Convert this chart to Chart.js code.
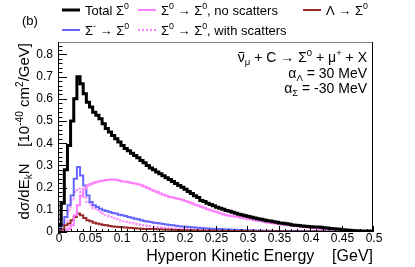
<!DOCTYPE html>
<html>
<head>
<meta charset="utf-8">
<script src="https://cdn.jsdelivr.net/npm/chart.js@4"></script>
<style>
  body { margin: 0; background: #fff; }
  canvas { display: block; }
</style>
</head>
<body>
<canvas id="hypChart" width="415" height="267"></canvas>
<script>
// histogram binning: 100 bins of 5 MeV from 0 to 0.5 GeV
var binWidth = 0.005;
var xTicks = [0, 0.05, 0.1, 0.15, 0.2, 0.25, 0.3, 0.35, 0.4, 0.45, 0.5];
var xTickLabels = ['0', '0.05', '0.1', '0.15', '0.2', '0.25', '0.3', '0.35', '0.4', '0.45', '0.5'];
var yTicks = [0, 0.1, 0.2, 0.3, 0.4, 0.5, 0.6, 0.7, 0.8];
var yTickLabels = ['0', '0.1', '0.2', '0.3', '0.4', '0.5', '0.6', '0.7', '0.8'];

// Total Sigma0
var totalSigma0 = [
  0.03, 0.13, 0.28, 0.39, 0.50, 0.60, 0.70, 0.668, 0.623, 0.585,
  0.563, 0.54, 0.526, 0.51, 0.488, 0.466, 0.45, 0.435, 0.42, 0.405,
  0.39, 0.376, 0.366, 0.355, 0.345, 0.334, 0.322, 0.312, 0.300, 0.288,
  0.280, 0.270, 0.262, 0.253, 0.244, 0.236, 0.228, 0.219, 0.210, 0.202,
  0.193, 0.183, 0.173, 0.163, 0.155, 0.142, 0.137, 0.130, 0.124, 0.118,
  0.112, 0.107, 0.102, 0.097, 0.093, 0.089, 0.084, 0.080, 0.077, 0.073,
  0.070, 0.066, 0.063, 0.060, 0.057, 0.054, 0.051, 0.049, 0.046, 0.044,
  0.041, 0.039, 0.037, 0.035, 0.032, 0.030, 0.029, 0.027, 0.026, 0.025,
  0.024, 0.023, 0.022, 0.021, 0.019, 0.018, 0.016, 0.015, 0.013, 0.012,
  0.010, 0.009, 0.008, 0.007, 0.006, 0.006, 0.005, 0.005, 0.004, 0.004
];
// Sigma0 -> Sigma0, no scatters
var s0NoScat = [
  0, 0, 0.005, 0.015, 0.03, 0.075, 0.12, 0.165, 0.195, 0.21,
  0.216, 0.222, 0.226, 0.229, 0.232, 0.234, 0.236, 0.237, 0.235, 0.232,
  0.228, 0.226, 0.224, 0.221, 0.218, 0.215, 0.211, 0.205, 0.198, 0.192,
  0.186, 0.180, 0.174, 0.168, 0.163, 0.158, 0.155, 0.152, 0.149, 0.145,
  0.140, 0.135, 0.130, 0.124, 0.119, 0.114, 0.109, 0.103, 0.098, 0.094,
  0.090, 0.085, 0.080, 0.076, 0.073, 0.071, 0.069, 0.067, 0.064, 0.061,
  0.058, 0.056, 0.053, 0.051, 0.048, 0.046, 0.043, 0.041, 0.039, 0.037,
  0.035, 0.033, 0.031, 0.030, 0.028, 0.026, 0.025, 0.023, 0.022, 0.020,
  0.019, 0.018, 0.017, 0.015, 0.014, 0.013, 0.012, 0.011, 0.010, 0.009,
  0.008, 0.007, 0.007, 0.006, 0.005, 0.005, 0.004, 0.004, 0.003, 0.003
];
// Lambda -> Sigma0
var lamToS0 = [
  0, 0.01, 0.03, 0.038, 0.053, 0.068, 0.083, 0.075, 0.063, 0.053,
  0.048, 0.042, 0.038, 0.035, 0.032, 0.030, 0.027, 0.025, 0.024, 0.022,
  0.021, 0.020, 0.019, 0.018, 0.017, 0.016, 0.015, 0.014, 0.014, 0.013,
  0.013, 0.012, 0.012, 0.011, 0.011, 0.010, 0.010, 0.009, 0.009, 0.009,
  0.008, 0.008, 0.008, 0.007, 0.007, 0.007, 0.006, 0.006, 0.006, 0.006,
  0.005, 0.005, 0.005, 0.005, 0.005, 0.004, 0.004, 0.004, 0.004, 0.004,
  0.004, 0.003, 0.003, 0.003, 0.003, 0.003, 0.003, 0.003, 0.003, 0.003,
  0.003, 0.003, 0.003, 0.002, 0.002, 0.002, 0.002, 0.002, 0.002, 0.002,
  0.002, 0.002, 0.002, 0.002, 0.002, 0.001, 0.001, 0.001, 0.001, 0.001,
  0.001, 0.001, 0.001, 0.001, 0.001, 0.001, 0.001, 0.001, 0.001, 0.001
];
// Sigma- -> Sigma0
var smToS0 = [
  0.01, 0.03, 0.068, 0.12, 0.165, 0.24, 0.293, 0.255, 0.21, 0.165,
  0.135, 0.12, 0.113, 0.105, 0.098, 0.095, 0.09, 0.086, 0.083, 0.078,
  0.075, 0.072, 0.068, 0.064, 0.060, 0.057, 0.053, 0.050, 0.047, 0.045,
  0.042, 0.040, 0.038, 0.036, 0.034, 0.032, 0.030, 0.028, 0.026, 0.025,
  0.024, 0.022, 0.021, 0.020, 0.019, 0.018, 0.017, 0.016, 0.015, 0.014,
  0.013, 0.013, 0.012, 0.011, 0.011, 0.010, 0.010, 0.009, 0.009, 0.008,
  0.008, 0.008, 0.007, 0.007, 0.007, 0.006, 0.006, 0.006, 0.005, 0.005,
  0.005, 0.005, 0.004, 0.004, 0.004, 0.004, 0.004, 0.003, 0.003, 0.003,
  0.003, 0.003, 0.003, 0.002, 0.002, 0.002, 0.002, 0.002, 0.002, 0.002,
  0.002, 0.001, 0.001, 0.001, 0.001, 0.001, 0.001, 0.001, 0.001, 0.001
];
// Sigma0 -> Sigma0, with scatters
var s0WithScat = [
  0, 0.01, 0.03, 0.098, 0.143, 0.18, 0.195, 0.18, 0.158, 0.135,
  0.12, 0.105, 0.098, 0.09, 0.083, 0.075, 0.068, 0.062, 0.057, 0.052,
  0.048, 0.045, 0.042, 0.039, 0.036, 0.034, 0.032, 0.030, 0.028, 0.026,
  0.024, 0.023, 0.021, 0.020, 0.019, 0.018, 0.017, 0.016, 0.015, 0.014,
  0.013, 0.012, 0.012, 0.011, 0.010, 0.010, 0.009, 0.009, 0.008, 0.008,
  0.007, 0.007, 0.007, 0.006, 0.006, 0.006, 0.005, 0.005, 0.005, 0.005,
  0.004, 0.004, 0.004, 0.004, 0.004, 0.003, 0.003, 0.003, 0.003, 0.003,
  0.003, 0.003, 0.002, 0.002, 0.002, 0.002, 0.002, 0.002, 0.002, 0.002,
  0.002, 0.002, 0.002, 0.001, 0.001, 0.001, 0.001, 0.001, 0.001, 0.001,
  0.001, 0.001, 0.001, 0.001, 0.001, 0.001, 0.001, 0.001, 0.001, 0.001
];

var FONT = '"Liberation Sans", Arial, Helvetica, sans-serif';

// turn bin contents into step points (left edge of every bin + closing edge)
function histPoints(vals) {
  var pts = [{ x: 0, y: 0 }];
  for (var i = 0; i < vals.length; i++) {
    pts.push({ x: +(i * binWidth).toFixed(3), y: vals[i] });
  }
  pts.push({ x: +(vals.length * binWidth).toFixed(3), y: vals[vals.length - 1] });
  return pts;
}

// text with sub/superscripts: parts = [[text, kind], ...], kind '', 'sup', 'sub', 'bar'
function richWidth(ctx, parts, size) {
  var w = 0;
  parts.forEach(function(p) {
    var s = (p[1] === 'sup' || p[1] === 'sub') ? size * 0.68 : size;
    ctx.font = s + 'px ' + FONT;
    w += ctx.measureText(p[0]).width;
  });
  return w;
}
function drawRich(ctx, parts, x, y, size, align) {
  var w = richWidth(ctx, parts, size);
  var cx = align === 'right' ? x - w : (align === 'center' ? x - w / 2 : x);
  ctx.textAlign = 'left';
  ctx.textBaseline = 'alphabetic';
  parts.forEach(function(p) {
    var s = size, dy = 0;
    if (p[1] === 'sup') { s = size * 0.68; dy = -size * 0.42; }
    if (p[1] === 'sub') { s = size * 0.68; dy = size * 0.22; }
    ctx.font = s + 'px ' + FONT;
    ctx.fillText(p[0], cx, y + dy);
    var tw = ctx.measureText(p[0]).width;
    if (p[1] === 'bar') {
      ctx.save();
      ctx.lineWidth = 1;
      ctx.strokeStyle = ctx.fillStyle;
      ctx.beginPath();
      ctx.moveTo(cx + 1, y - size * 0.68);
      ctx.lineTo(cx + tw - 0.5, y - size * 0.68);
      ctx.stroke();
      ctx.restore();
    }
    cx += tw;
  });
}

var decorPlugin = {
  id: 'rootDecor',
  afterDraw: function(chart) {
    var ctx = chart.ctx;
    var a = chart.chartArea;
    var xs = chart.scales.x, ys = chart.scales.y;
    ctx.save();
    ctx.fillStyle = '#000';
    ctx.strokeStyle = '#000';

    // frame
    ctx.lineWidth = 1;
    ctx.strokeStyle = '#888';
    ctx.beginPath();
    ctx.moveTo(a.left, a.top + 0.5);
    ctx.lineTo(a.right, a.top + 0.5);
    ctx.stroke();
    ctx.strokeStyle = '#000';
    ctx.beginPath();
    ctx.moveTo(a.right - 0.5, a.top);
    ctx.lineTo(a.right - 0.5, a.bottom);
    ctx.moveTo(a.left + 0.5, a.top);
    ctx.lineTo(a.left + 0.5, a.bottom);
    ctx.moveTo(a.left, a.bottom - 0.5);
    ctx.lineTo(a.right, a.bottom - 0.5);
    ctx.stroke();

    // ticks, inside the frame
    ctx.beginPath();
    for (var i = 0; i <= 50; i++) {
      var px = Math.round(xs.getPixelForValue(i * 0.01)) + 0.5;
      var len = (i % 5 === 0) ? 6 : 3;
      ctx.moveTo(px, a.bottom);
      ctx.lineTo(px, a.bottom - len);
    }
    for (var j = 0; j <= 42; j++) {
      var py = Math.round(ys.getPixelForValue(j * 0.02)) + 0.5;
      var ylen = (j % 5 === 0) ? 9 : 4.5;
      ctx.moveTo(a.left, py);
      ctx.lineTo(a.left + ylen, py);
    }
    ctx.stroke();

    // tick labels
    ctx.font = '12px ' + FONT;
    ctx.textAlign = 'center';
    ctx.textBaseline = 'alphabetic';
    xTicks.forEach(function(v, k) {
      ctx.fillText(xTickLabels[k], xs.getPixelForValue(v) + 1, 242);
    });
    ctx.textAlign = 'right';
    ctx.textBaseline = 'middle';
    yTicks.forEach(function(v, k) {
      ctx.fillText(yTickLabels[k], 53, ys.getPixelForValue(v));
    });

    // axis titles
    drawRich(ctx, [['Hyperon Kinetic Energy    [GeV]', '']], a.right, 261, 16, 'right');
    ctx.save();
    ctx.translate(29, a.top + 1);
    ctx.rotate(-Math.PI / 2);
    drawRich(ctx, [['d\u03c3/dE', ''], ['k', 'sub'], ['N    [10', ''], ['-40', 'sup'],
      [' cm', ''], ['2', 'sup'], ['/GeV]', '']], 0, 0, 15, 'right');
    ctx.restore();

    // "(b)"
    drawRich(ctx, [['(b)', '']], 22, 25, 13, 'left');

    // physics annotation
    drawRich(ctx, [['\u03bd', 'bar'], ['\u03bc', 'sub'], [' + C \u2192 \u03a3', ''], ['0', 'sup'],
      [' + \u03bc', ''], ['+', 'sup'], [' + X', '']], 367, 62, 14, 'right');
    drawRich(ctx, [['\u03b1', ''], ['\u039b', 'sub'], [' = 30 MeV', '']], 367, 78, 14, 'right');
    drawRich(ctx, [['\u03b1', ''], ['\u03a3', 'sub'], [' = -30 MeV', '']], 367, 93, 14, 'right');

    // legend
    var ds = chart.data.datasets;
    var entries = [
      { d: ds[0], x: 62, y: 10, parts: [['Total \u03a3', ''], ['0', 'sup']] },
      { d: ds[1], x: 138, y: 10, parts: [['\u03a3', ''], ['0', 'sup'], [' \u2192 \u03a3', ''], ['0', 'sup'], [', no scatters', '']] },
      { d: ds[2], x: 303, y: 10, parts: [['\u039b \u2192 \u03a3', ''], ['0', 'sup']] },
      { d: ds[3], x: 62, y: 30, parts: [['\u03a3', ''], ['-', 'sup'], [' \u2192 \u03a3', ''], ['0', 'sup']] },
      { d: ds[4], x: 138, y: 30, parts: [['\u03a3', ''], ['0', 'sup'], [' \u2192 \u03a3', ''], ['0', 'sup'], [', with scatters', '']] }
    ];
    entries.forEach(function(e) {
      ctx.save();
      ctx.strokeStyle = e.d.borderColor;
      ctx.lineWidth = e.d.borderWidth;
      ctx.setLineDash(e.d.borderDash || []);
      ctx.beginPath();
      ctx.moveTo(e.x, e.y);
      ctx.lineTo(e.x + 18, e.y);
      ctx.stroke();
      ctx.restore();
      ctx.fillStyle = '#000';
      drawRich(ctx, e.parts, e.x + 23, e.y + 4.5, 13, 'left');
    });

    ctx.restore();
  }
};

function histDataset(label, vals, color, width, dash) {
  return {
    label: label,
    data: histPoints(vals),
    borderColor: color,
    borderWidth: width,
    borderDash: dash || [],
    stepped: true,
    fill: false,
    pointRadius: 0,
    tension: 0
  };
}

var ctx = document.getElementById('hypChart').getContext('2d');
var chart = new Chart(ctx, {
  type: 'line',
  data: {
    datasets: [
      histDataset('Total \u03a30', totalSigma0, '#000000', 3),
      histDataset('\u03a30 \u2192 \u03a30, no scatters', s0NoScat, '#ff80ff', 2),
      histDataset('\u039b \u2192 \u03a30', lamToS0, '#992b2b', 2),
      histDataset('\u03a3- \u2192 \u03a30', smToS0, '#6666ff', 2),
      histDataset('\u03a30 \u2192 \u03a30, with scatters', s0WithScat, '#ff80ff', 2, [2, 2])
    ]
  },
  options: {
    responsive: false,
    animation: false,
    devicePixelRatio: 1,
    layout: { padding: { left: 58, right: 42, top: 42, bottom: 35 } },
    scales: {
      x: { type: 'linear', min: 0, max: 0.5, display: false },
      y: { type: 'linear', min: 0, max: 0.856, display: false }
    },
    plugins: {
      legend: { display: false },
      tooltip: { enabled: false }
    }
  },
  plugins: [decorPlugin]
});
</script>
</body>
</html>
